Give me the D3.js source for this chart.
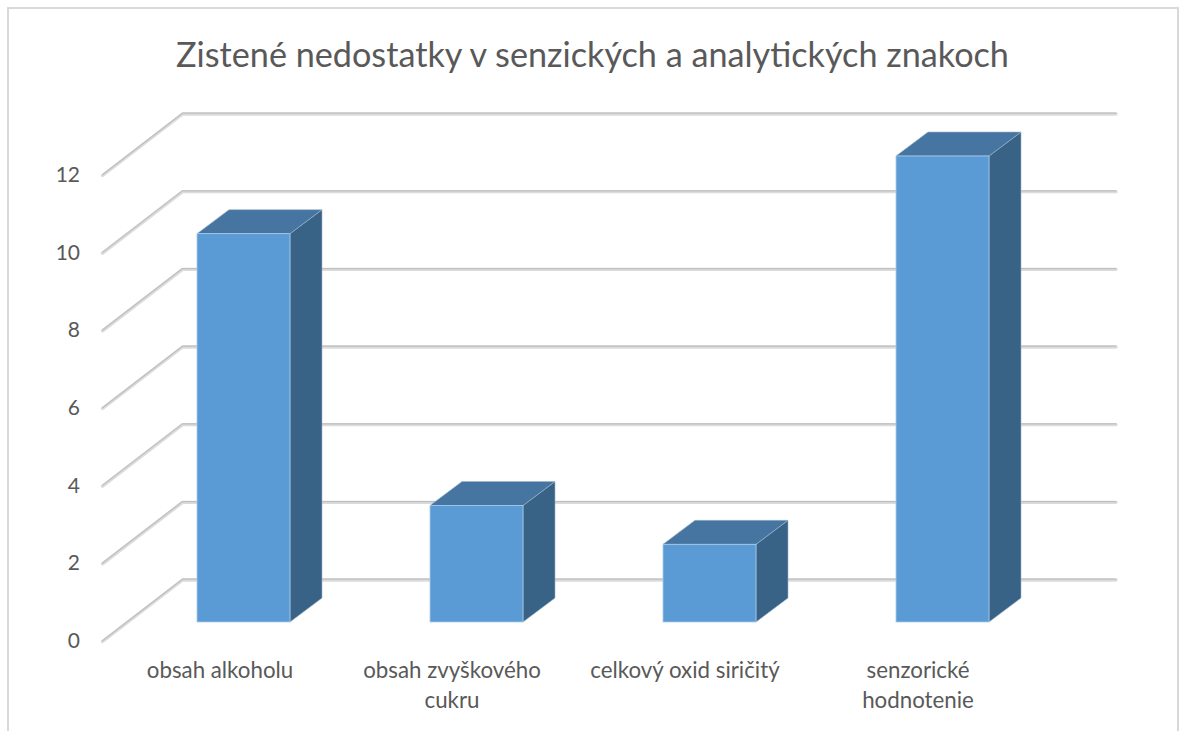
<!DOCTYPE html>
<html><head><meta charset="utf-8">
<script src="https://cdn.jsdelivr.net/npm/d3@7/dist/d3.min.js"></script>
<style>html,body{margin:0;padding:0;background:#fff;overflow:hidden}svg{display:block}text{font-family:Lato,"Open Sans",sans-serif;fill:#595959}</style>
</head><body><svg id="c" width="1179" height="731"></svg>
<script>
const chartTitle = "Zistené nedostatky v senzických a analytických znakoch";
const categories = ["obsah alkoholu", "obsah zvyškového cukru", "celkový oxid siričitý", "senzorické hodnotenie"];
const categoryLines = [["obsah alkoholu"], ["obsah zvyškového", "cukru"], ["celkový oxid siričitý"], ["senzorické", "hodnotenie"]];
const values = [10, 3, 2, 12];
const ticks = [0, 2, 4, 6, 8, 10, 12];

const svg = d3.select("#c");
const depth = {x: 80, y: -61.5};
const barDepth = {x: 32, y: -24};
const y = d3.scaleLinear().domain([0, 12]).range([640.7, 174.7]);
const yBar = d3.scaleLinear().domain([0, 12]).range([622, 156]);
const x2 = d3.scaleBand().domain(categories).range([127, 1059]);
const bw = 93;

// frame
svg.append("path").attr("d", "M8 731V8H1178V731").attr("fill", "none").attr("stroke", "#d9d9d9").attr("stroke-width", 2);

// title
svg.append("text").attr("x", 592.5).attr("y", 67).attr("text-anchor", "middle").attr("font-size", 34.2).text(chartTitle);

// grid
const grid = svg.append("g");
[["#dcdcdc", 3.4, 0.8], ["#bfbfbf", 1.2, 0]].forEach(([col, w, off]) => {
  grid.selectAll(null).data(ticks).join("path")
    .attr("d", d => {
      const f = y(d) + off, b = f + depth.y;
      return `M102.5 ${f}L${102.5 + depth.x} ${b}H1116`;
    })
    .attr("fill", "none").attr("stroke", col).attr("stroke-width", w).attr("stroke-linecap", "round").attr("stroke-linejoin", "round");
});

// tick labels via axis
const axis = d3.axisLeft(y).tickValues(ticks).tickSize(0).tickPadding(0).tickFormat(d3.format("d"));
const ga = svg.append("g").attr("transform", "translate(80,0)").call(axis);
ga.select(".domain").remove();
ga.selectAll("text").attr("font-size", 21).attr("dy", "0.32em").style("font-family", "Lato").style("fill", "#595959");

// bars
const bars = svg.append("g").selectAll("g").data(categories.map((c, i) => ({c, v: values[i]}))).join("g");
const bx = d => x2(d.c) + x2.bandwidth() / 2 - bw / 2;
bars.append("path").attr("fill", "#386286").attr("d", d => {
  const l = bx(d) + bw, t = yBar(d.v), b = yBar(0);
  return `M${l} ${t}l${barDepth.x} ${barDepth.y}V${b + barDepth.y}L${l} ${b}Z`;
}).attr("stroke", "#9db4c8").attr("stroke-width", 0.6);
bars.append("path").attr("fill", "#4675a1").attr("d", d => {
  const l = bx(d), t = yBar(d.v);
  return `M${l} ${t}l${barDepth.x} ${barDepth.y}h${bw}l${-barDepth.x} ${-barDepth.y}Z`;
}).attr("stroke", "#9db4c8").attr("stroke-width", 0.6);
bars.append("rect").attr("x", bx).attr("y", d => yBar(d.v)).attr("width", bw).attr("height", d => yBar(0) - yBar(d.v))
  .attr("fill", "#5b9bd5").attr("stroke", "#a9cbe8").attr("stroke-width", 0.8);

// category labels
const cx = [220, 452, 685, 918];
const lab = svg.append("g").selectAll("text").data(categoryLines).join("text")
  .attr("text-anchor", "middle").attr("font-size", 22.3);
lab.each(function(lines, i) {
  d3.select(this).selectAll("tspan").data(lines).join("tspan")
    .attr("x", cx[i]).attr("y", (d, j) => 678 + j * 30).text(d => d);
});
</script></body></html>
